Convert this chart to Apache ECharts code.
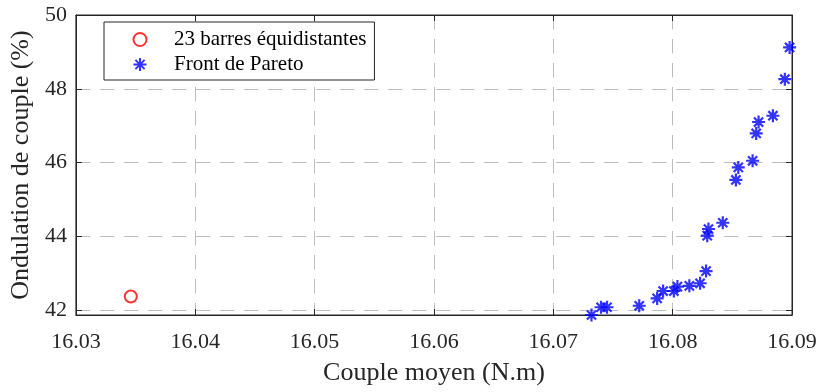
<!DOCTYPE html>
<html>
<head>
<meta charset="utf-8">
<script src="https://cdn.jsdelivr.net/npm/echarts@6/dist/echarts.min.js"></script>
<style>html,body{margin:0;padding:0;background:#fff;}#c{width:821px;height:392px;}</style>
</head>
<body>
<div id="c"></div>
<script>
// Data
const refName = '23 barres équidistantes';
const refX = [16.0346];
const refY = [42.37];

const paretoName = 'Front de Pareto';
const paretoX = [16.0732, 16.0740, 16.0745, 16.0772, 16.0787, 16.0792, 16.0801, 16.0804, 16.0814, 16.0823, 16.0828,
                 16.0829, 16.0830, 16.0842, 16.0853, 16.0855, 16.0867, 16.0870, 16.0872, 16.0884, 16.0894, 16.0898];
const paretoY = [41.87, 42.08, 42.08, 42.12, 42.32, 42.52, 42.52, 42.64, 42.66, 42.73, 43.06,
                 44.02, 44.20, 44.37, 45.53, 45.87, 46.05, 46.79, 47.10, 47.27, 48.26, 49.12];

const xTicks = [16.03, 16.04, 16.05, 16.06, 16.07, 16.08, 16.09];
const yTicks = [42, 44, 46, 48, 50];
const yMin = 41.87;
const xTitle = 'Couple moyen (N.m)';
const yTitle = 'Ondulation de couple (%)';

const FONT = '"Liberation Serif", "Times New Roman", serif';
const AX = '#262626';
const starPath = 'path://M6,0L6,12M0,6L12,6M1.76,1.76L10.24,10.24M1.76,10.24L10.24,1.76';

const chart = echarts.init(document.getElementById('c'), null, {renderer: 'canvas'});
const gridDash = {show: true, lineStyle: {color: '#bdbdbd', width: 1, type: [14.5, 9.5]}};
chart.setOption({
  animation: false,
  backgroundColor: '#fff',
  grid: {left: 74, right: 29, top: 15, bottom: 77, show: true, borderColor: AX, borderWidth: 1, backgroundColor: 'transparent'},
  legend: {
    orient: 'vertical', left: 104, top: 22,
    padding: [7, 8, 5, 27], itemGap: 4, itemWidth: 58, itemHeight: 13,
    backgroundColor: '#fff', borderColor: AX, borderWidth: 1,
    textStyle: {fontFamily: FONT, fontSize: 21, color: '#000'},
    data: [refName, paretoName]
  },
  xAxis: [{
    type: 'value', min: xTicks[0], max: xTicks[xTicks.length - 1], interval: 0.01,
    name: xTitle, nameLocation: 'middle', nameGap: 45,
    nameTextStyle: {fontFamily: FONT, fontSize: 26, color: AX},
    axisLine: {show: true, onZero: false, lineStyle: {color: AX}},
    axisTick: {show: true, inside: true, length: 6, lineStyle: {color: AX}},
    axisLabel: {fontFamily: FONT, fontSize: 22, color: AX, margin: 16, formatter: v => v.toFixed(2)},
    splitLine: gridDash
  }, {
    type: 'value', position: 'top', min: xTicks[0], max: xTicks[xTicks.length - 1], interval: 0.01,
    axisLine: {show: true, onZero: false, lineStyle: {color: AX}},
    axisTick: {show: true, inside: true, length: 6, lineStyle: {color: AX}},
    axisLabel: {show: false}, splitLine: {show: false}
  }],
  yAxis: [{
    type: 'value', min: yMin, max: 50,
    name: yTitle, nameLocation: 'middle', nameGap: 38,
    nameTextStyle: {fontFamily: FONT, fontSize: 26, color: AX},
    axisLine: {show: true, onZero: false, lineStyle: {color: AX}},
    axisTick: {show: true, inside: true, length: 6, lineStyle: {color: AX}, customValues: yTicks},
    axisLabel: {fontFamily: FONT, fontSize: 22, color: AX, margin: 9, customValues: yTicks, formatter: v => String(Math.round(v))},
    splitLine: gridDash
  }, {
    type: 'value', position: 'right', min: yMin, max: 50,
    axisLine: {show: true, onZero: false, lineStyle: {color: AX}},
    axisTick: {show: true, inside: true, length: 6, lineStyle: {color: AX}, customValues: yTicks},
    axisLabel: {show: false}, splitLine: {show: false}
  }],
  series: [{
    name: refName, type: 'scatter', xAxisIndex: 0, yAxisIndex: 0,
    symbol: 'emptyCircle', symbolSize: 12,
    itemStyle: {color: '#ff0000', borderColor: '#ff0000', borderWidth: 1.5},
    data: refX.map((x, i) => [x, refY[i]])
  }, {
    name: paretoName, type: 'scatter', xAxisIndex: 0, yAxisIndex: 0,
    symbol: starPath, symbolSize: 13, clip: false,
    itemStyle: {color: 'none', borderColor: '#0000ff', borderWidth: 2.2},
    data: paretoX.map((x, i) => [x, paretoY[i]])
  }]
});
</script>
</body>
</html>
